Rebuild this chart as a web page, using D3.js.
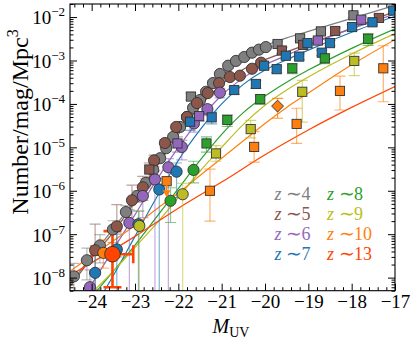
<!DOCTYPE html>
<html>
<head>
<meta charset="utf-8">
<script src="https://cdn.jsdelivr.net/npm/d3@7"></script>
<style>
  body { margin: 0; background: #fff; }
  svg { display: block; }
  text { font-family: "Liberation Serif", "Times New Roman", serif; }
</style>
</head>
<body>
<div id="chart"></div>
<script>
// ---- data: [M_UV, log10(phi), errUp (dex), errDown (dex)] ----
const z4Circles = [
  [-24.41,-7.97,0.30,0.50],[-24.11,-7.60,0.28,0.45],[-23.81,-7.26,0.25,0.40],[-23.51,-6.89,0.20,0.30],
  [-23.21,-6.49,0.15,0.20],[-22.95,-6.12,0.12,0.15],[-22.75,-5.82,0.10,0.12],[-22.58,-5.52,0.08,0.10],
  [-22.42,-5.25,0.07,0.08],[-22.28,-5.02,0.06,0.07],[-22.12,-4.76,0.05,0.06],[-21.96,-4.53,0.05,0.05],
  [-21.80,-4.30,0.05,0.05],[-21.66,-4.09,0.05,0.05],[-21.50,-3.91,0.05,0.05],[-21.36,-3.72,0.05,0.05],
  [-21.20,-3.52,0.05,0.05],[-21.04,-3.31,0.05,0.05],[-20.85,-3.12,0.05,0.05],[-20.67,-3.01,0.05,0.05],
  [-20.48,-2.92,0.05,0.05],[-20.30,-2.82,0.05,0.05],[-20.14,-2.75,0.05,0.05],[-19.98,-2.69,0.05,0.05]
];
const z4Squares = [[-21.71,-3.83,0.08,0.08],[-19.71,-2.62,0.06,0.06],[-19.19,-2.49,0.06,0.06],[-18.71,-2.33,0.06,0.06],[-17.96,-1.96,0.06,0.06]];
const z4Fit = [[-24.5,-8.15],[-24,-7.5],[-23.5,-6.87],[-23,-6.2],[-22.5,-5.4],[-22,-4.62],[-21.5,-3.95],[-21,-3.35],[-20.5,-2.93],[-20,-2.66],[-19.5,-2.48],[-19,-2.33],[-18,-2.03],[-17,-1.73]];

const z5Circles = [
  [-23.92,-7.37,0.60,0.90],[-23.42,-6.82,0.50,0.70],[-23.07,-6.22,0.35,0.45],[-22.82,-5.92,0.25,0.30],
  [-22.56,-5.30,0.12,0.15],[-22.31,-4.90,0.08,0.10],[-22.05,-4.53,0.06,0.06],[-21.80,-4.30,0.05,0.05],
  [-21.57,-3.98,0.05,0.05],[-21.32,-3.75,0.05,0.05],[-21.06,-3.52,0.05,0.05],[-20.81,-3.38,0.05,0.05],
  [-20.58,-3.35,0.05,0.05],[-20.30,-3.19,0.05,0.05],[-20.09,-3.05,0.05,0.05]
];
const z5Squares = [[-22.67,-5.51,0.15,0.2],[-19.61,-2.77,0.07,0.07],[-19.12,-2.64,0.07,0.07],[-18.38,-2.32,0.07,0.07],[-17.37,-2.02,0.07,0.07]];
const z5Fit = [[-24.5,-8.2],[-24,-7.55],[-23.5,-6.95],[-23,-6.25],[-22.5,-5.45],[-22,-4.7],[-21.5,-4.05],[-21,-3.55],[-20.5,-3.2],[-20,-2.98],[-19.5,-2.8],[-19,-2.62],[-18,-2.26],[-17,-1.87]];

const z6Circles = [
  [-24.04,-8.22,0.40,2.0],[-23.13,-6.74,0.30,3.0],[-22.82,-6.12,0.25,0.50],[-22.54,-5.74,0.20,3.0],
  [-22.23,-5.46,0.20,3.0],[-21.92,-4.99,0.15,0.30],[-21.64,-4.45,0.12,0.20],[-21.33,-4.12,0.10,0.15],
  [-21.04,-3.74,0.10,0.12]
];
const z6Squares = [[-22.02,-4.91,0.15,0.2],[-21.52,-4.28,0.1,0.12],[-18.78,-2.54,0.07,0.07],[-17.78,-2.06,0.07,0.07]];
const z6Fit = [[-24.5,-8.9],[-24,-8.15],[-23.5,-7.35],[-23,-6.55],[-22.5,-5.75],[-22,-5.0],[-21.5,-4.35],[-21,-3.8],[-20.5,-3.4],[-20,-3.1],[-19.5,-2.88],[-19,-2.66],[-18,-2.27],[-17,-1.93]];

const z7Circles = [[-23.92,-7.89,0.40,3.0],[-23.42,-7.35,0.35,3.0],[-22.92,-6.77,0.30,3.0],[-22.44,-5.97,0.25,3.0],[-22.04,-5.56,0.20,0.60]];
const z7Squares = [
  [-21.73,-4.41,0.15,0.2],[-21.23,-4.31,0.12,0.15],[-20.71,-3.68,0.08,0.1],[-20.21,-3.54,0.08,0.1],
  [-20.02,-3.12,0.07,0.08],[-19.73,-3.20,0.07,0.08],[-19.52,-2.89,0.06,0.07],[-19.21,-2.91,0.06,0.07],
  [-19.02,-2.60,0.06,0.06],[-18.69,-2.82,0.06,0.07],[-18.50,-2.60,0.06,0.06],[-17.99,-2.23,0.06,0.06],
  [-17.52,-2.12,0.06,0.06],[-17.04,-1.85,0.06,0.06]
];
const z7Fit = [[-24,-8.8],[-23.5,-7.95],[-23,-7.05],[-22.5,-6.15],[-22,-5.3],[-21.5,-4.6],[-21,-4.0],[-20.5,-3.55],[-20,-3.22],[-19.5,-2.98],[-19,-2.76],[-18,-2.35],[-17,-1.98]];

const z8Circles = [[-22.18,-6.23,0.30,0.50],[-21.65,-5.52,0.20,0.30]];
const z8Squares = [[-21.35,-4.91,0.15,0.2],[-20.87,-4.37,0.12,0.15],[-20.11,-3.89,0.1,0.12],[-19.37,-3.18,0.1,0.12],[-18.62,-2.95,0.1,0.12],[-17.62,-2.50,0.12,0.15]];
const z8Fit = [[-24,-8.45],[-23.5,-7.85],[-23,-7.25],[-22.5,-6.6],[-22,-5.95],[-21.5,-5.3],[-21,-4.7],[-20.5,-4.2],[-20,-3.82],[-19.5,-3.5],[-19,-3.22],[-18,-2.72],[-17,-2.27]];

const z9Circles = [[-22.90,-6.81,0.35,3.0],[-21.90,-6.08,0.25,3.0]];
const z9Squares = [[-21.13,-5.14,0.18,0.18],[-20.33,-4.58,0.2,0.2],[-19.14,-3.72,0.26,0.7],[-17.94,-3.01,0.18,0.34]];
const z9Fit = [[-24,-8.35],[-23.5,-7.85],[-23,-7.3],[-22.5,-6.75],[-22,-6.15],[-21.5,-5.55],[-21,-5.0],[-20.5,-4.47],[-20,-4.03],[-19.5,-3.68],[-19,-3.38],[-18,-2.85],[-17,-2.38]];

const z10Circles = [[-23.73,-7.43,0.30,0.35]];
const z10Squares = [[-21.27,-6.00,0.5,0.7],[-20.25,-4.99,0.35,0.35],[-19.27,-4.46,0.36,0.45],[-18.27,-3.70,0.34,0.44],[-17.27,-3.18,0.52,0.77]];
const z10Diamonds = [[-19.71,-4.05,0.18,0.28]];
const z10Limits = [[-22.27,-5.78]];
const z10Fit = [[-24.5,-7.85],[-24,-7.5],[-23.5,-7.15],[-23,-6.8],[-22.5,-6.42],[-22,-6.05],[-21.5,-5.65],[-21,-5.25],[-20.5,-4.85],[-20,-4.45],[-19.5,-4.08],[-19,-3.75],[-18,-3.1],[-17,-2.52]];

// [M, logphi, errUp, errDown, errM]
const z13Circles = [[-23.52,-7.46,0.53,0.76,0.48]];
const z13Fit = [[-24.5,-7.95],[-23,-7.05],[-22,-6.4],[-21,-5.8],[-20,-5.17],[-19,-4.6],[-18,-4.08],[-17,-3.6]];

const xTicks = [-24,-23,-22,-21,-20,-19,-18,-17];
const yTicks = [1e-8,1e-7,1e-6,1e-5,1e-4,1e-3,1e-2];
const legendLabels = ['4','5','6','7','8','9','10','13'];

const COLORS = {
  z4:'#7f7f7f', z5:'#8c564b', z6:'#9467bd', z7:'#1f77b4',
  z8:'#2ca02c', z9:'#bcbd22', z10:'#ff7f0e', z13:'#ff4500'
};

const series = [
  {key:'z4', fit:z4Fit, circles:z4Circles, squares:z4Squares},
  {key:'z5', fit:z5Fit, circles:z5Circles, squares:z5Squares},
  {key:'z6', fit:z6Fit, circles:z6Circles, squares:z6Squares},
  {key:'z7', fit:z7Fit, circles:z7Circles, squares:z7Squares},
  {key:'z8', fit:z8Fit, circles:z8Circles, squares:z8Squares},
  {key:'z9', fit:z9Fit, circles:z9Circles, squares:z9Squares},
  {key:'z10', fit:z10Fit, circles:z10Circles, squares:z10Squares},
  {key:'z13', fit:z13Fit, circles:[], squares:[]}
];

// ---- layout ----
const W = 411, H = 343;
const L = 70, R = 395, T = 4, B = 290.7;

const svg = d3.select('#chart').append('svg')
  .attr('width', W).attr('height', H);

const x = d3.scaleLinear().domain([-24.5, -17]).range([L, R]);
const y = d3.scaleLog().domain([5e-9, 2e-2]).range([B, T]);
const yl = l => y(Math.pow(10, l));

svg.append('defs').append('clipPath').attr('id', 'clip')
  .append('rect').attr('x', L).attr('y', T).attr('width', R - L).attr('height', B - T);

const plot = svg.append('g').attr('clip-path', 'url(#clip)');

// Fit lines
const line = d3.line().x(d => x(d[0])).y(d => yl(d[1])).curve(d3.curveMonotoneX);
plot.append('g').selectAll('path')
  .data(series)
  .join('path')
  .attr('d', d => line(d.fit))
  .attr('fill', 'none')
  .attr('stroke', d => COLORS[d.key])
  .attr('stroke-width', 1.2);

// Error bars
const CAP = 5.5;
function errorBars(g, pts, color, width, opacity) {
  pts.forEach(p => {
    const cx = x(p[0]);
    const y1 = yl(p[1] + p[2]), y2 = yl(p[1] - p[3]);
    const e = g.append('g').attr('stroke', color).attr('stroke-width', width).attr('stroke-opacity', opacity);
    e.append('line').attr('x1', cx).attr('x2', cx).attr('y1', y1).attr('y2', y2);
    e.append('line').attr('x1', cx - CAP).attr('x2', cx + CAP).attr('y1', y1).attr('y2', y1);
    e.append('line').attr('x1', cx - CAP).attr('x2', cx + CAP).attr('y1', y2).attr('y2', y2);
  });
}

const errG = plot.append('g');
series.forEach(s => {
  errorBars(errG, s.circles, COLORS[s.key], 1.2, 0.55);
  errorBars(errG, s.squares, COLORS[s.key], 1.2, 0.6);
});
errorBars(errG, z10Diamonds, COLORS.z10, 1.2, 0.8);

// z~13 thick error bars (both axes)
z13Circles.forEach(p => {
  const cx = x(p[0]), cy = yl(p[1]);
  const g = errG.append('g').attr('stroke', COLORS.z13).attr('stroke-width', 2.6);
  const y1 = yl(p[1] + p[2]), y2 = yl(p[1] - p[3]);
  const x1 = x(p[0] - p[4]), x2 = x(p[0] + p[4]);
  g.append('line').attr('x1', cx).attr('x2', cx).attr('y1', y1).attr('y2', y2);
  g.append('line').attr('x1', cx - 9).attr('x2', cx + 9).attr('y1', y1).attr('y2', y1);
  g.append('line').attr('x1', cx - 9).attr('x2', cx + 9).attr('y1', y2).attr('y2', y2);
  g.append('line').attr('x1', x1).attr('x2', x2).attr('y1', cy).attr('y2', cy);
  g.append('line').attr('x1', x1).attr('x2', x1).attr('y1', cy - 9).attr('y2', cy + 9);
  g.append('line').attr('x1', x2).attr('x2', x2).attr('y1', cy - 9).attr('y2', cy + 9);
});

// Markers
const mk = plot.append('g').attr('stroke', '#333').attr('stroke-width', 0.9);
series.forEach(s => {
  mk.append('g').selectAll('circle')
    .data(s.circles)
    .join('circle')
    .attr('cx', d => x(d[0]))
    .attr('cy', d => yl(d[1]))
    .attr('r', 5.6)
    .attr('fill', COLORS[s.key]);
  mk.append('g').selectAll('rect')
    .data(s.squares)
    .join('rect')
    .attr('x', d => x(d[0]) - 4.6)
    .attr('y', d => yl(d[1]) - 4.6)
    .attr('width', 9.2).attr('height', 9.2)
    .attr('fill', COLORS[s.key]);
});

// z~10 upper limit (square + arrow)
z10Limits.forEach(d => {
  const cx = x(d[0]), cy = yl(d[1]);
  plot.append('line').attr('x1', cx).attr('x2', cx).attr('y1', cy).attr('y2', cy + 12)
    .attr('stroke', COLORS.z10).attr('stroke-width', 1.4);
  plot.append('path').attr('d', `M${cx - 4},${cy + 9}L${cx + 4},${cy + 9}L${cx},${cy + 16}Z`)
    .attr('fill', COLORS.z10);
  mk.append('rect').attr('x', cx - 4.6).attr('y', cy - 4.6).attr('width', 9.2).attr('height', 9.2)
    .attr('fill', COLORS.z10);
});

// z~10 diamond
mk.append('g').selectAll('rect')
  .data(z10Diamonds)
  .join('rect')
  .attr('x', -4.2).attr('y', -4.2).attr('width', 8.4).attr('height', 8.4)
  .attr('transform', d => `translate(${x(d[0])},${yl(d[1])}) rotate(45)`)
  .attr('fill', COLORS.z10);

// z~13 big circle
mk.append('g').selectAll('circle')
  .data(z13Circles)
  .join('circle')
  .attr('cx', d => x(d[0]))
  .attr('cy', d => yl(d[1]))
  .attr('r', 7.8)
  .attr('fill', COLORS.z13);

// ---- axes ----
const xMinor = d3.range(-24.4, -17, 0.2).map(v => +v.toFixed(1)).filter(v => Math.abs(v - Math.round(v)) > 0.01);
const yMinor = [];
for (let e = -9; e <= -2; e++) for (let k = 2; k <= 9; k++) {
  const v = k * Math.pow(10, e);
  if (v >= 5e-9 && v <= 2e-2) yMinor.push(v);
}

const fmtX = d => '\u2212' + Math.abs(d);

svg.append('g').attr('transform', `translate(0,${B})`)
  .call(d3.axisBottom(x).tickValues(xTicks).tickSize(-7).tickSizeOuter(0).tickPadding(4).tickFormat(fmtX))
  .call(g => g.selectAll('text').attr('font-size', 19).style('fill', '#000'));
svg.append('g').attr('transform', `translate(0,${B})`)
  .call(d3.axisBottom(x).tickValues(xMinor).tickSize(-3.5).tickSizeOuter(0).tickFormat(''));
svg.append('g').attr('transform', `translate(0,${T})`)
  .call(d3.axisTop(x).tickValues(xTicks).tickSize(-7).tickSizeOuter(0).tickFormat(''));
svg.append('g').attr('transform', `translate(0,${T})`)
  .call(d3.axisTop(x).tickValues(xMinor).tickSize(-3.5).tickSizeOuter(0).tickFormat(''));

const left = svg.append('g').attr('transform', `translate(${L},0)`)
  .call(d3.axisLeft(y).tickValues(yTicks).tickSize(-7).tickSizeOuter(0).tickPadding(5).tickFormat(''));
left.selectAll('.tick').append('text')
  .attr('x', -5).attr('dy', '0.36em')
  .attr('text-anchor', 'end')
  .style('fill', '#000')
  .attr('font-size', 19)
  .each(function(d) {
    const t = d3.select(this);
    t.append('tspan').text('10');
    t.append('tspan').attr('font-size', 13).attr('dy', -8).text('\u2212' + Math.abs(Math.round(Math.log10(d))));
  });
svg.append('g').attr('transform', `translate(${L},0)`)
  .call(d3.axisLeft(y).tickValues(yMinor).tickSize(-3.5).tickSizeOuter(0).tickFormat(''));
svg.append('g').attr('transform', `translate(${R},0)`)
  .call(d3.axisRight(y).tickValues(yTicks).tickSize(-7).tickSizeOuter(0).tickFormat(''));
svg.append('g').attr('transform', `translate(${R},0)`)
  .call(d3.axisRight(y).tickValues(yMinor).tickSize(-3.5).tickSizeOuter(0).tickFormat(''));

svg.selectAll('.domain').remove();
svg.selectAll('.tick line').attr('stroke', '#000').attr('stroke-width', 1);

svg.append('rect')
  .attr('x', L).attr('y', T).attr('width', R - L).attr('height', B - T)
  .attr('fill', 'none').attr('stroke', '#000').attr('stroke-width', 1.1);

// axis titles
const xt = svg.append('text').attr('x', 231).attr('y', 333).attr('text-anchor', 'middle')
  .attr('font-size', 20).style('fill', '#000');
xt.append('tspan').attr('font-style', 'italic').text('M');
xt.append('tspan').attr('font-size', 14).attr('dy', 4).text('UV');

const yt = svg.append('text')
  .attr('transform', 'translate(28,122) rotate(-90)')
  .attr('text-anchor', 'middle')
  .attr('font-size', 24).style('fill', '#000');
yt.append('tspan').text('Number/mag/Mpc');
yt.append('tspan').attr('font-size', 16).attr('dy', -10).text('3');

// legend
const legend = svg.append('g');
const legendKeys = ['z4','z5','z6','z7','z8','z9','z10','z13'];
legendKeys.forEach((k, i) => {
  const col = Math.floor(i / 4), row = i % 4;
  const lx = col === 0 ? 274.5 : 327, ly = 200 + row * 20;
  const t = legend.append('text').attr('x', lx).attr('y', ly).attr('font-size', 18).style('fill', COLORS[k]);
  t.append('tspan').attr('font-style', 'italic').text('z');
  t.append('tspan').attr('x', lx + 11.5).attr('font-size', 19).text('\u223C');
  t.append('tspan').attr('x', lx + 27).text(legendLabels[i]);
});
</script>
</body>
</html>
